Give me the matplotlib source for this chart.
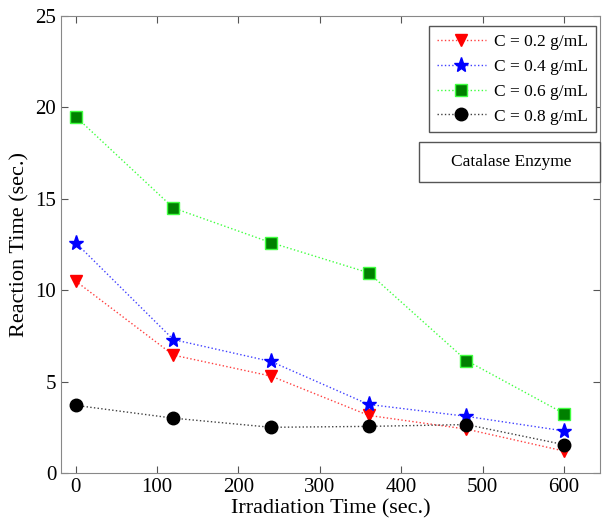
import matplotlib.pyplot as plt
from matplotlib.patches import Rectangle

plt.rcParams['font.family'] = ['Liberation Serif', 'DejaVu Serif']

# irradiation times (sec.)
time = [0, 120, 240, 360, 480, 600]

# reaction times (sec.) per concentration
c02 = [10.5, 6.45, 5.3, 3.15, 2.4, 1.2]
c04 = [12.6, 7.3, 6.1, 3.75, 3.1, 2.3]
c06 = [19.5, 14.5, 12.6, 10.95, 6.15, 3.25]
c08 = [3.7, 3.0, 2.5, 2.55, 2.65, 1.55]

labels = ['C = 0.2 g/mL', 'C = 0.4 g/mL', 'C = 0.6 g/mL', 'C = 0.8 g/mL']

fig = plt.figure(figsize=(6.02, 5.25), dpi=100)
ax = fig.add_axes([61 / 602, 1 - 473 / 525, (600 - 61) / 602, (473 - 16) / 525])

ax.plot(time, c02, ':', color='#ff4040', lw=1, marker='v', ms=9,
        mfc='red', mec='red', label=labels[0])
ax.plot(time, c04, ':', color='#4040ff', lw=1, marker='*', ms=11,
        mfc='blue', mec='blue', label=labels[1])
ax.plot(time, c06, ':', color='#40ff40', lw=1, marker='s', ms=8,
        mfc='#008000', mec='#40ff40', label=labels[2])
ax.plot(time, c08, ':', color='#404040', lw=1, marker='o', ms=9,
        mfc='black', mec='black', label=labels[3])

ax.set_xlim(-18, 644)
ax.set_ylim(0, 25)
ax.set_xticks([0, 100, 200, 300, 400, 500, 600])
ax.set_yticks([0, 5, 10, 15, 20, 25])
ax.tick_params(direction='in', top=True, right=True, labelsize=15,
               length=5, color='#555555')
for s in ax.spines.values():
    s.set_color('#888888')

ax.set_xlabel('Irradiation Time (sec.)', fontsize=16, labelpad=2)
ax.set_ylabel('Reaction Time (sec.)', fontsize=16, labelpad=4)

leg = ax.legend(loc='upper right', bbox_to_anchor=(0.9926, 0.978),
                borderaxespad=0, fontsize=12.5,
                fancybox=False, framealpha=1, edgecolor='#555555',
                handlelength=2.8, borderpad=0.45, labelspacing=0.5,
                handletextpad=0.5)
leg.get_frame().set_linewidth(1.0)

# "Catalase Enzyme" label box
fig.patches.append(Rectangle((419 / 602, 1 - 182 / 525), 181 / 602, 40 / 525,
                             transform=fig.transFigure, fc='white',
                             ec='#555555', lw=1, zorder=5))
fig.text(511 / 602, 1 - 162 / 525, 'Catalase Enzyme', ha='center',
         va='center', fontsize=12.5, zorder=6)

fig.savefig('out.png', dpi=100)
